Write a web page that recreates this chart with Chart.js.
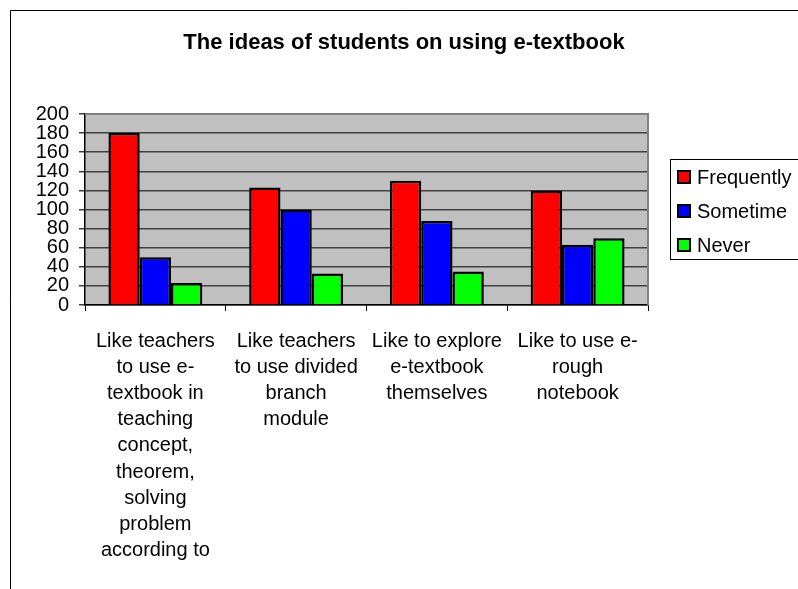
<!DOCTYPE html>
<html>
<head>
<meta charset="utf-8">
<script src="https://cdn.jsdelivr.net/npm/chart.js@4/dist/chart.umd.min.js"></script>
<style>
  html, body { margin: 0; padding: 0; background: #fff; }
  #wrap { position: relative; width: 798px; height: 589px; }
</style>
</head>
<body>
<div id="wrap"><canvas id="chartIdeas" width="798" height="589"></canvas></div>
<script>
const categories = [
    ["Like teachers", "to use e-", "textbook in", "teaching", "concept,", "theorem,", "solving", "problem", "according to"],
    ["Like teachers", "to use divided", "branch", "module"],
    ["Like to explore", "e-textbook", "themselves"],
    ["Like to use e-", "rough", "notebook"]
];
const seriesNames = ["Frequently", "Sometime", "Never"];
const frequently = [180, 123, 130, 120];
const sometime = [50, 100, 88, 63];
const never = [23, 33, 35, 70];
const yTicks = [0, 20, 40, 60, 80, 100, 120, 140, 160, 180, 200];

const FONT = "'Liberation Sans', Arial, sans-serif";

// grey plot area, outer frame and the boxed legend
const excelLook = {
    id: "excelLook",
    beforeDraw(chart) {
        const a = chart.chartArea;
        const c = chart.ctx;
        c.save();
        c.fillStyle = "#C0C0C0";
        c.fillRect(a.left, a.top, a.right - a.left, a.bottom - a.top);
        c.strokeStyle = "#000";
        c.lineWidth = 1;
        c.beginPath();
        c.moveTo(10.5, 589);
        c.lineTo(10.5, 10.5);
        c.lineTo(798, 10.5);
        c.stroke();
        c.restore();
    },
    afterDraw(chart) {
        const a = chart.chartArea;
        const c = chart.ctx;
        c.save();
        c.strokeStyle = "#808080";
        c.lineWidth = 2;
        c.beginPath();
        c.moveTo(a.left, a.top);
        c.lineTo(a.right, a.top);
        c.lineTo(a.right, a.bottom);
        c.stroke();

        // legend
        c.strokeStyle = "#000";
        c.lineWidth = 1;
        c.strokeRect(670.5, 159.5, 140, 100);
        c.font = "20px " + FONT;
        c.textBaseline = "middle";
        chart.data.datasets.forEach((ds, i) => {
            const y = 177 + i * 34;
            c.fillStyle = ds.backgroundColor;
            c.fillRect(678, y - 6, 12, 12);
            c.lineWidth = 2;
            c.strokeRect(678, y - 6, 12, 12);
            c.fillStyle = "#000";
            c.fillText(ds.label, 697, y + 1);
        });
        c.restore();
    }
};

const ctx = document.getElementById("chartIdeas");
new Chart(ctx, {
    type: "bar",
    data: {
        labels: categories,
        datasets: [
            { label: seriesNames[0], data: frequently, backgroundColor: "#FF0000" },
            { label: seriesNames[1], data: sometime, backgroundColor: "#0000FF" },
            { label: seriesNames[2], data: never, backgroundColor: "#00FF00" }
        ].map(d => Object.assign(d, {
            borderColor: "#000",
            borderWidth: 2.5,
            barPercentage: 1,
            categoryPercentage: 0.667
        }))
    },
    options: {
        responsive: false,
        animation: false,
        devicePixelRatio: 1,
        layout: { padding: { left: 10, right: 0, top: 10, bottom: 0 } },
        plugins: {
            legend: { display: false },
            tooltip: { enabled: false },
            title: {
                display: true,
                text: "The ideas of students on using e-textbook",
                color: "#000",
                font: { family: FONT, size: 22, weight: "bold", lineHeight: 1.2 },
                padding: { top: 20, bottom: 57.6 }
            }
        },
        scales: {
            x: {
                grid: {
                    display: true,
                    drawOnChartArea: false,
                    drawTicks: true,
                    tickLength: 6,
                    color: "#000",
                    offset: true
                },
                border: { color: "#000", width: 1.5 },
                ticks: {
                    color: "#000",
                    font: { family: FONT, size: 20, lineHeight: 1.31 },
                    padding: 17,
                    maxRotation: 0,
                    autoSkip: false
                },
                afterFit(s) { s.height = 284; }
            },
            y: {
                min: 0,
                max: 200,
                afterBuildTicks(s) { s.ticks = yTicks.map(v => ({ value: v })); },
                grid: { color: "#404040", lineWidth: 1.5, tickLength: 6 },
                border: { color: "#000", width: 1.5 },
                ticks: {
                    color: "#000",
                    font: { family: FONT, size: 20 },
                    padding: 10,
                    autoSkip: false
                },
                afterFit(s) { s.width = 75; }
            },
            spacer: {
                type: "linear",
                position: "right",
                display: true,
                grid: { display: false, drawTicks: false },
                border: { display: false },
                ticks: { display: false },
                afterFit(s) { s.width = 150; }
            }
        }
    },
    plugins: [excelLook]
});
</script>
</body>
</html>
